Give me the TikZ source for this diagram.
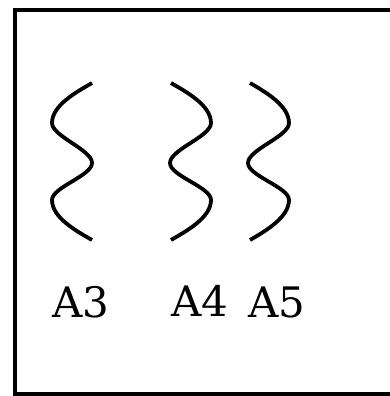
\documentclass[tikz,border=0pt]{standalone}
\usepackage{fontspec}
\setmainfont{DejaVu Serif}
\begin{document}
\begin{tikzpicture}[x=1pt,y=1pt,
  wave/.style={line width=3.8pt,line cap=butt},
  lbl/.style={anchor=base,inner sep=0pt,font=\fontsize{42}{50}\selectfont}]
\useasboundingbox (0,0) rectangle (390,396);
\clip (0,0) rectangle (390,396);
\fill[white] (0,0) rectangle (390,396);
\draw[line width=3.8pt] (15,2) rectangle (420,386);
% A3
\draw[wave] (92,313) to[out=210,in=90,looseness=0.8] (52,273)
  to[out=-90,in=90,looseness=0.6] (92,233)
  to[out=-90,in=90,looseness=0.6] (52,196)
  to[out=-90,in=150,looseness=0.8] (92,156);
% A4
\draw[wave] (171,313) to[out=-30,in=90,looseness=0.8] (211,273)
  to[out=-90,in=90,looseness=0.6] (170,233)
  to[out=-90,in=90,looseness=0.6] (211,196)
  to[out=-90,in=30,looseness=0.8] (171,156);
% A5
\draw[wave] (250,313) to[out=-30,in=90,looseness=0.8] (289,273)
  to[out=-90,in=90,looseness=0.6] (248,233)
  to[out=-90,in=90,looseness=0.6] (289,196)
  to[out=-90,in=30,looseness=0.8] (250,156);
\node[lbl] (a3) at (81,78) {A3};
\node[lbl] (a4) at (200,79) {A4};
\node[lbl] (a5) at (277,78) {A5};
\end{tikzpicture}
\end{document}
